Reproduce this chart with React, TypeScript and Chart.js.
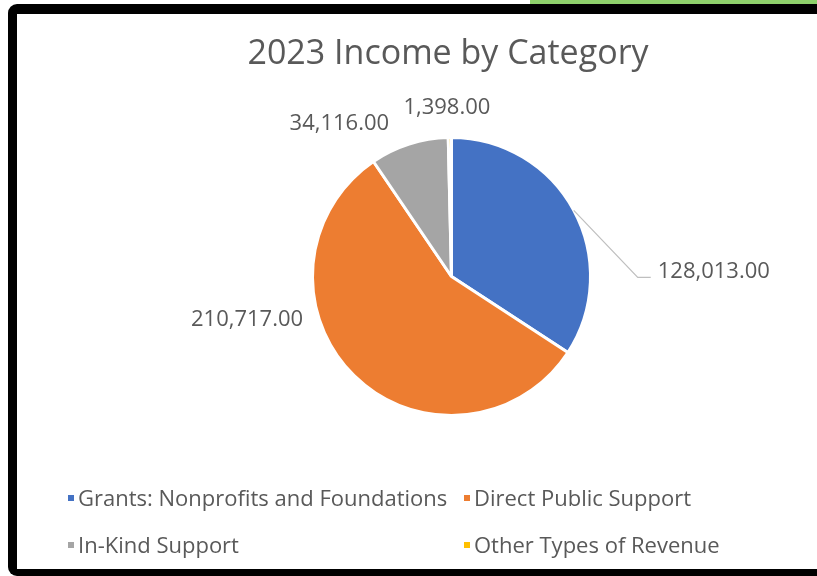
import React, { useEffect, useRef } from "react";
import { Chart, registerables } from "chart.js";

Chart.register(...registerables);

// ---- data ----
const TITLE = "2023 Income by Category";
const categories = [
  "Grants: Nonprofits and Foundations",
  "Direct Public Support",
  "In-Kind Support",
  "Other Types of Revenue",
];
const values = [128013, 210717, 34116, 1398];
const sliceColors = ["#4472C4", "#ED7D31", "#A5A5A5", "#FFC000"];

const FONT = "'Open Sans', 'Noto Sans', sans-serif";
const TEXT = "#595959";

const fmt = (v: number) =>
  v.toLocaleString("en-US", { minimumFractionDigits: 2, maximumFractionDigits: 2 });

// label placement relative to the rim point at each slice's mid angle
// align: text alignment, dx/dy: offset of text anchor (alphabetic baseline)
const labelPlacement = [
  { align: "left", dx: 84, dy: 68, leader: { ex: 64, ey: 67, tail: 13 } },
  { align: "right", dx: -51, dy: -50 },
  { align: "right", dx: -20, dy: -14 },
  { align: "center", dx: -3, dy: -24 },
];

// legend grid: [column, row]
const legendGrid = [
  [0, 0],
  [1, 0],
  [0, 1],
  [1, 1],
];

const overlayPlugin = {
  id: "excelOverlay",
  afterDatasetsDraw(chart: any) {
    const ctx = chart.ctx as CanvasRenderingContext2D;
    const meta = chart.getDatasetMeta(0);
    ctx.save();

    // title
    ctx.fillStyle = TEXT;
    ctx.font = `34px ${FONT}`;
    ctx.textAlign = "center";
    ctx.textBaseline = "alphabetic";
    ctx.fillText(TITLE, 448, 64);

    // data labels
    ctx.font = `22px ${FONT}`;
    meta.data.forEach((arc: any, i: number) => {
      const p = arc.getProps(["x", "y", "startAngle", "endAngle", "outerRadius"], true);
      const mid = (p.startAngle + p.endAngle) / 2;
      const rx = p.x + Math.cos(mid) * p.outerRadius;
      const ry = p.y + Math.sin(mid) * p.outerRadius;
      const pl: any = labelPlacement[i];
      if (pl.leader) {
        ctx.strokeStyle = "#BFBFBF";
        ctx.lineWidth = 1.2;
        ctx.beginPath();
        ctx.moveTo(rx, ry);
        ctx.lineTo(rx + pl.leader.ex, ry + pl.leader.ey);
        ctx.lineTo(rx + pl.leader.ex + pl.leader.tail, ry + pl.leader.ey);
        ctx.stroke();
      }
      ctx.fillStyle = TEXT;
      ctx.textAlign = pl.align;
      ctx.fillText(fmt(values[i]), rx + pl.dx, ry + pl.dy);
    });

    // legend
    ctx.font = `22px ${FONT}`;
    ctx.textAlign = "left";
    const colX = [68, 464];
    const rowY = [506, 553];
    categories.forEach((c, i) => {
      const [col, row] = legendGrid[i];
      const x = colX[col];
      const y = rowY[row];
      ctx.fillStyle = sliceColors[i];
      ctx.fillRect(x, y - 11, 6, 6);
      ctx.fillStyle = TEXT;
      ctx.fillText(c, x + 10, y);
    });

    ctx.restore();
  },
};

export default function App() {
  const ref = useRef<HTMLCanvasElement | null>(null);

  useEffect(() => {
    if (!ref.current) return;
    const chart = new Chart(ref.current, {
      type: "pie",
      data: {
        labels: categories,
        datasets: [
          {
            data: values,
            backgroundColor: sliceColors,
            borderColor: "#FFFFFF",
            borderWidth: 3,
            hoverOffset: 0,
          },
        ],
      },
      options: {
        responsive: false,
        animation: false,
        devicePixelRatio: 1,
        layout: { padding: { left: 311, right: 225, top: 136, bottom: 159 } },
        plugins: {
          legend: { display: false },
          title: { display: false },
          tooltip: { enabled: false },
        },
        events: [],
      },
      plugins: [overlayPlugin],
    });
    return () => chart.destroy();
  }, []);

  return (
    <div
      style={{
        position: "fixed",
        left: 0,
        top: 0,
        width: 817,
        height: 576,
        overflow: "hidden",
        background: "#FFFFFF",
      }}
    >
      <div
        style={{
          position: "absolute",
          left: 530,
          top: 0,
          width: 287,
          height: 5,
          background: "#8ED16B",
        }}
      />
      <div
        style={{
          position: "absolute",
          left: 8,
          top: 4,
          width: 860,
          height: 572,
          boxSizing: "border-box",
          borderStyle: "solid",
          borderColor: "#000",
          borderWidth: "10px 0 7px 9px",
          borderRadius: 9,
          background: "#FFFFFF",
          filter: "blur(0.5px)",
        }}
      />
      <canvas
        ref={ref}
        width={817}
        height={576}
        style={{ position: "absolute", left: 0, top: 0, width: 817, height: 576 }}
      />
    </div>
  );
}
